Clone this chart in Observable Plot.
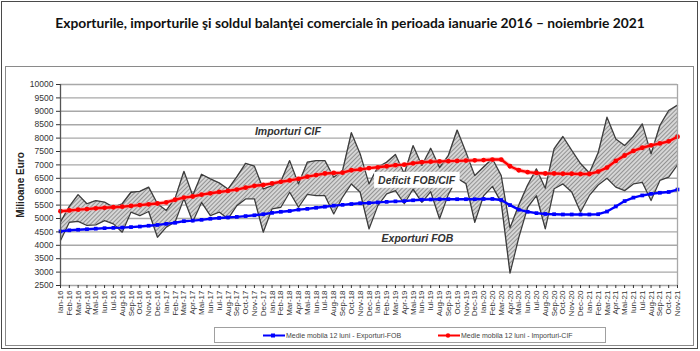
<!DOCTYPE html>
<html><head><meta charset="utf-8">
<script src="https://cdn.jsdelivr.net/npm/d3@7"></script>
<script src="https://cdn.jsdelivr.net/npm/@observablehq/plot@0.6"></script>
<style>
body{margin:0;background:#fff;}
#wrap{position:relative;width:700px;height:351px;overflow:hidden;background:#fff;font-family:Arial,"Liberation Sans",sans-serif;}
#outer{position:absolute;left:1px;top:1px;width:695px;height:346px;border:1.5px solid #4a4a4a;}
#inner{position:absolute;left:5px;top:66px;width:687px;height:278px;border:1.5px solid #8a8a8a;}
#title{position:absolute;left:0;top:14px;width:700px;text-align:center;font:bold 13.8px Lato,sans-serif;color:#111;}
#chart{position:absolute;left:0;top:0;}
#legend{position:absolute;left:214px;top:327px;width:390px;height:14px;border:1px solid #a0a0a0;background:#fff;font-size:7px;color:#444;}
.lg{position:absolute;top:1px;height:12px;display:flex;align-items:center;white-space:nowrap;}
</style></head>
<body>
<div id="wrap">
  <div id="outer"></div>
  <div id="inner"></div>
  <div id="title">Exporturile, importurile şi soldul balanţei comerciale în perioada ianuarie 2016 – noiembrie 2021</div>
  <div id="chart"></div>
  <div id="legend"></div>
</div>
<script>
const monthLabels = [
 "Ian-16","Feb-16","Mar-16","Apr-16","Mai-16","Iun-16","Iul-16","Aug-16","Sep-16","Oct-16","Nov-16","Dec-16",
 "Ian-17","Feb-17","Mar-17","Apr-17","Mai-17","Iun-17","Iul-17","Aug-17","Sep-17","Oct-17","Nov-17","Dec-17",
 "Ian-18","Feb-18","Mar-18","Apr-18","Mai-18","Iun-18","Iul-18","Aug-18","Sep-18","Oct-18","Nov-18","Dec-18",
 "Ian-19","Feb-19","Mar-19","Apr-19","Mai-19","Iun-19","Iul-19","Aug-19","Sep-19","Oct-19","Nov-19","Dec-19",
 "Ian-20","Feb-20","Mar-20","Apr-20","Mai-20","Iun-20","Iul-20","Aug-20","Sep-20","Oct-20","Nov-20","Dec-20",
 "Ian-21","Feb-21","Mar-21","Apr-21","Mai-21","Iun-21","Iul-21","Aug-21","Sep-21","Oct-21","Nov-21"];

const importsCIF = [
 4870,5450,5890,5550,5670,5610,5420,5550,5980,6010,6170,5550,
 5300,5750,6760,5860,6650,6480,6330,6100,6550,7060,6950,6100,
 6230,6380,7160,6290,7100,7160,7160,6540,6790,8200,7410,6290,
 6920,7100,7390,6670,7720,6980,7620,6900,7350,8300,7470,6600,
 6920,7230,6600,4650,5500,6250,6850,6130,7600,8060,7540,7050,
 6700,7450,8780,7970,7720,8060,8530,7410,8470,9030,9230];

const exportsFOB = [
 4180,4860,4890,4740,4760,4920,4800,4490,5240,5110,5260,4300,
 4680,4870,5750,4880,5600,5110,5240,4990,5480,5730,5730,4490,
 5360,5420,5980,5420,5900,5850,5850,5170,5800,6290,5980,4610,
 5480,5920,6040,5550,6100,5600,6000,4990,5900,6500,6300,4860,
 5850,6200,5600,2960,4300,5420,5850,4615,6110,6290,5990,5240,
 5860,6250,6500,6170,6040,6290,6350,5670,6420,6540,7000];

const maExports = [
 4520,4560,4580,4600,4620,4640,4650,4660,4680,4700,4730,4760,
 4800,4840,4900,4920,4950,4990,5020,5040,5060,5090,5120,5160,
 5210,5250,5280,5330,5360,5400,5440,5480,5510,5540,5570,5580,
 5600,5620,5640,5650,5680,5700,5710,5720,5720,5720,5720,5720,
 5730,5730,5690,5500,5330,5250,5200,5170,5160,5150,5150,5150,
 5150,5160,5260,5450,5650,5780,5860,5920,5960,5990,6080];

const maImports = [
 5270,5300,5330,5350,5380,5400,5420,5440,5470,5500,5530,5560,
 5600,5700,5780,5820,5890,5940,5990,6030,6080,6150,6220,6250,
 6310,6370,6420,6480,6560,6620,6680,6700,6710,6800,6830,6880,
 6910,6950,6990,7010,7060,7100,7120,7130,7140,7150,7160,7170,
 7180,7200,7200,6950,6800,6730,6700,6680,6680,6670,6670,6660,
 6660,6750,6900,7150,7350,7520,7640,7730,7800,7880,8050];

const yTicks = [2500,3000,3500,4000,4500,5000,5500,6000,6500,7000,7500,8000,8500,9000,9500,10000];

const annLabels = ["Importuri CIF","Deficit FOB/CIF","Exporturi FOB"];
const annX = [25.8, 40.4, 40.5];
const annY = [8230, 6420, 4250];

const seriesNames = ["Medie mobila 12 luni - Exporturi-FOB","Medie mobila 12 luni - Importuri-CIF"];
const seriesColors = ["#0000ff","#ff0000"];

const data = monthLabels.map((m,i)=>({i, m, imp: importsCIF[i], exp: exportsFOB[i], mae: maExports[i], mai: maImports[i]}));
const ann = annLabels.map((t,k)=>({t, x: annX[k], y: annY[k]}));

const chart = Plot.plot({
  width: 700, height: 351,
  marginLeft: 60, marginRight: 23, marginTop: 84, marginBottom: 66,
  style: {fontFamily: "Arial, 'Liberation Sans', sans-serif", background: "transparent", color: "#333"},
  x: {type: "linear", domain: [0, monthLabels.length - 1]},
  y: {domain: [2500, 10000]},
  marks: [
    Plot.ruleY(yTicks, {stroke: "#a8a8a8", strokeWidth: 1.4}),
    Plot.areaY(data, {x: "i", y1: "exp", y2: "imp", fill: "url(#hatch)", curve: "linear"}),
    Plot.lineY(data, {x: "i", y: "imp", stroke: "#3c3c3c", strokeWidth: 1.3}),
    Plot.lineY(data, {x: "i", y: "exp", stroke: "#3c3c3c", strokeWidth: 1.3}),
    Plot.lineY(data, {x: "i", y: "mae", stroke: seriesColors[0], strokeWidth: 2.4}),
    Plot.dot(data, {x: "i", y: "mae", fill: seriesColors[0], symbol: "square", r: 2.1, stroke: "none"}),
    Plot.lineY(data, {x: "i", y: "mai", stroke: "#ff9a9a", strokeWidth: 4.5, strokeOpacity: 0.6}),
    Plot.lineY(data, {x: "i", y: "mai", stroke: seriesColors[1], strokeWidth: 2.4}),
    Plot.dot(data, {x: "i", y: "mai", fill: seriesColors[1], r: 2.4, stroke: "none"}),
    Plot.ruleX([0], {stroke: "#555", strokeWidth: 1.3}),
    Plot.ruleX([monthLabels.length - 1], {stroke: "#a8a8a8", strokeWidth: 1.3}),
    Plot.axisY({ticks: yTicks, tickSize: 4, tickPadding: 3, fontSize: 8.5, label: "Milioane Euro", labelAnchor: "center", labelArrow: "none", labelOffset: 44, tickFormat: d => String(d)}),
    Plot.axisX({ticks: d3.range(monthLabels.length), tickFormat: i => monthLabels[i], tickRotate: -90, tickSize: 3, tickPadding: 2, fontSize: 8, label: null}),
    Plot.text(ann, {x: "x", y: "y", text: "t", fontWeight: "bold", fontStyle: "italic", fontSize: 10.5, fill: "#333", className: "ann"})
  ]
});
document.getElementById("chart").appendChild(chart);

// hatch pattern
const svg = d3.select(chart);
const defs = svg.insert("defs", ":first-child");
const p = defs.append("pattern").attr("id", "hatch").attr("patternUnits", "userSpaceOnUse")
  .attr("width", 3).attr("height", 3).attr("patternTransform", "rotate(45)");
p.append("rect").attr("width", 3).attr("height", 3).attr("fill", "#d6d6d6");
p.append("line").attr("x1", 0.5).attr("y1", 0).attr("x2", 0.5).attr("y2", 3).attr("stroke", "#8a8a8a").attr("stroke-width", 0.9);

// y label bold
svg.selectAll("g[aria-label='y-axis label'] text").attr("font-weight", "bold").attr("font-size", 10).attr("fill", "#222");

// white box behind "Deficit FOB/CIF"
svg.selectAll("g.ann text").each(function(d, k){
  const t = d3.select(this);
  if (t.text() === annLabels[1]) {
    const b = this.getBBox();
    d3.select(this.parentNode).insert("rect", () => this)
      .attr("x", b.x - 4).attr("y", b.y - 2).attr("width", b.width + 8).attr("height", b.height + 4)
      .attr("fill", "#fff").attr("transform", this.getAttribute("transform"));
  }
});

// legend
const lg = document.getElementById("legend");
const lpos = [48, 223];
seriesNames.forEach((name, k) => {
  const d = document.createElement("div");
  d.className = "lg";
  d.style.left = lpos[k] + "px";
  const marker = k === 0
    ? `<rect x="8" y="2.5" width="4" height="4" fill="${seriesColors[k]}"/>`
    : `<circle cx="10" cy="4.5" r="2.2" fill="${seriesColors[k]}"/>`;
  d.innerHTML = `<svg width="22" height="9"><line x1="0" y1="4.5" x2="22" y2="4.5" stroke="${seriesColors[k]}" stroke-width="2"/>${marker}</svg><span style="margin-left:1px">${name}</span>`;
  lg.appendChild(d);
});
</script>
</body></html>
